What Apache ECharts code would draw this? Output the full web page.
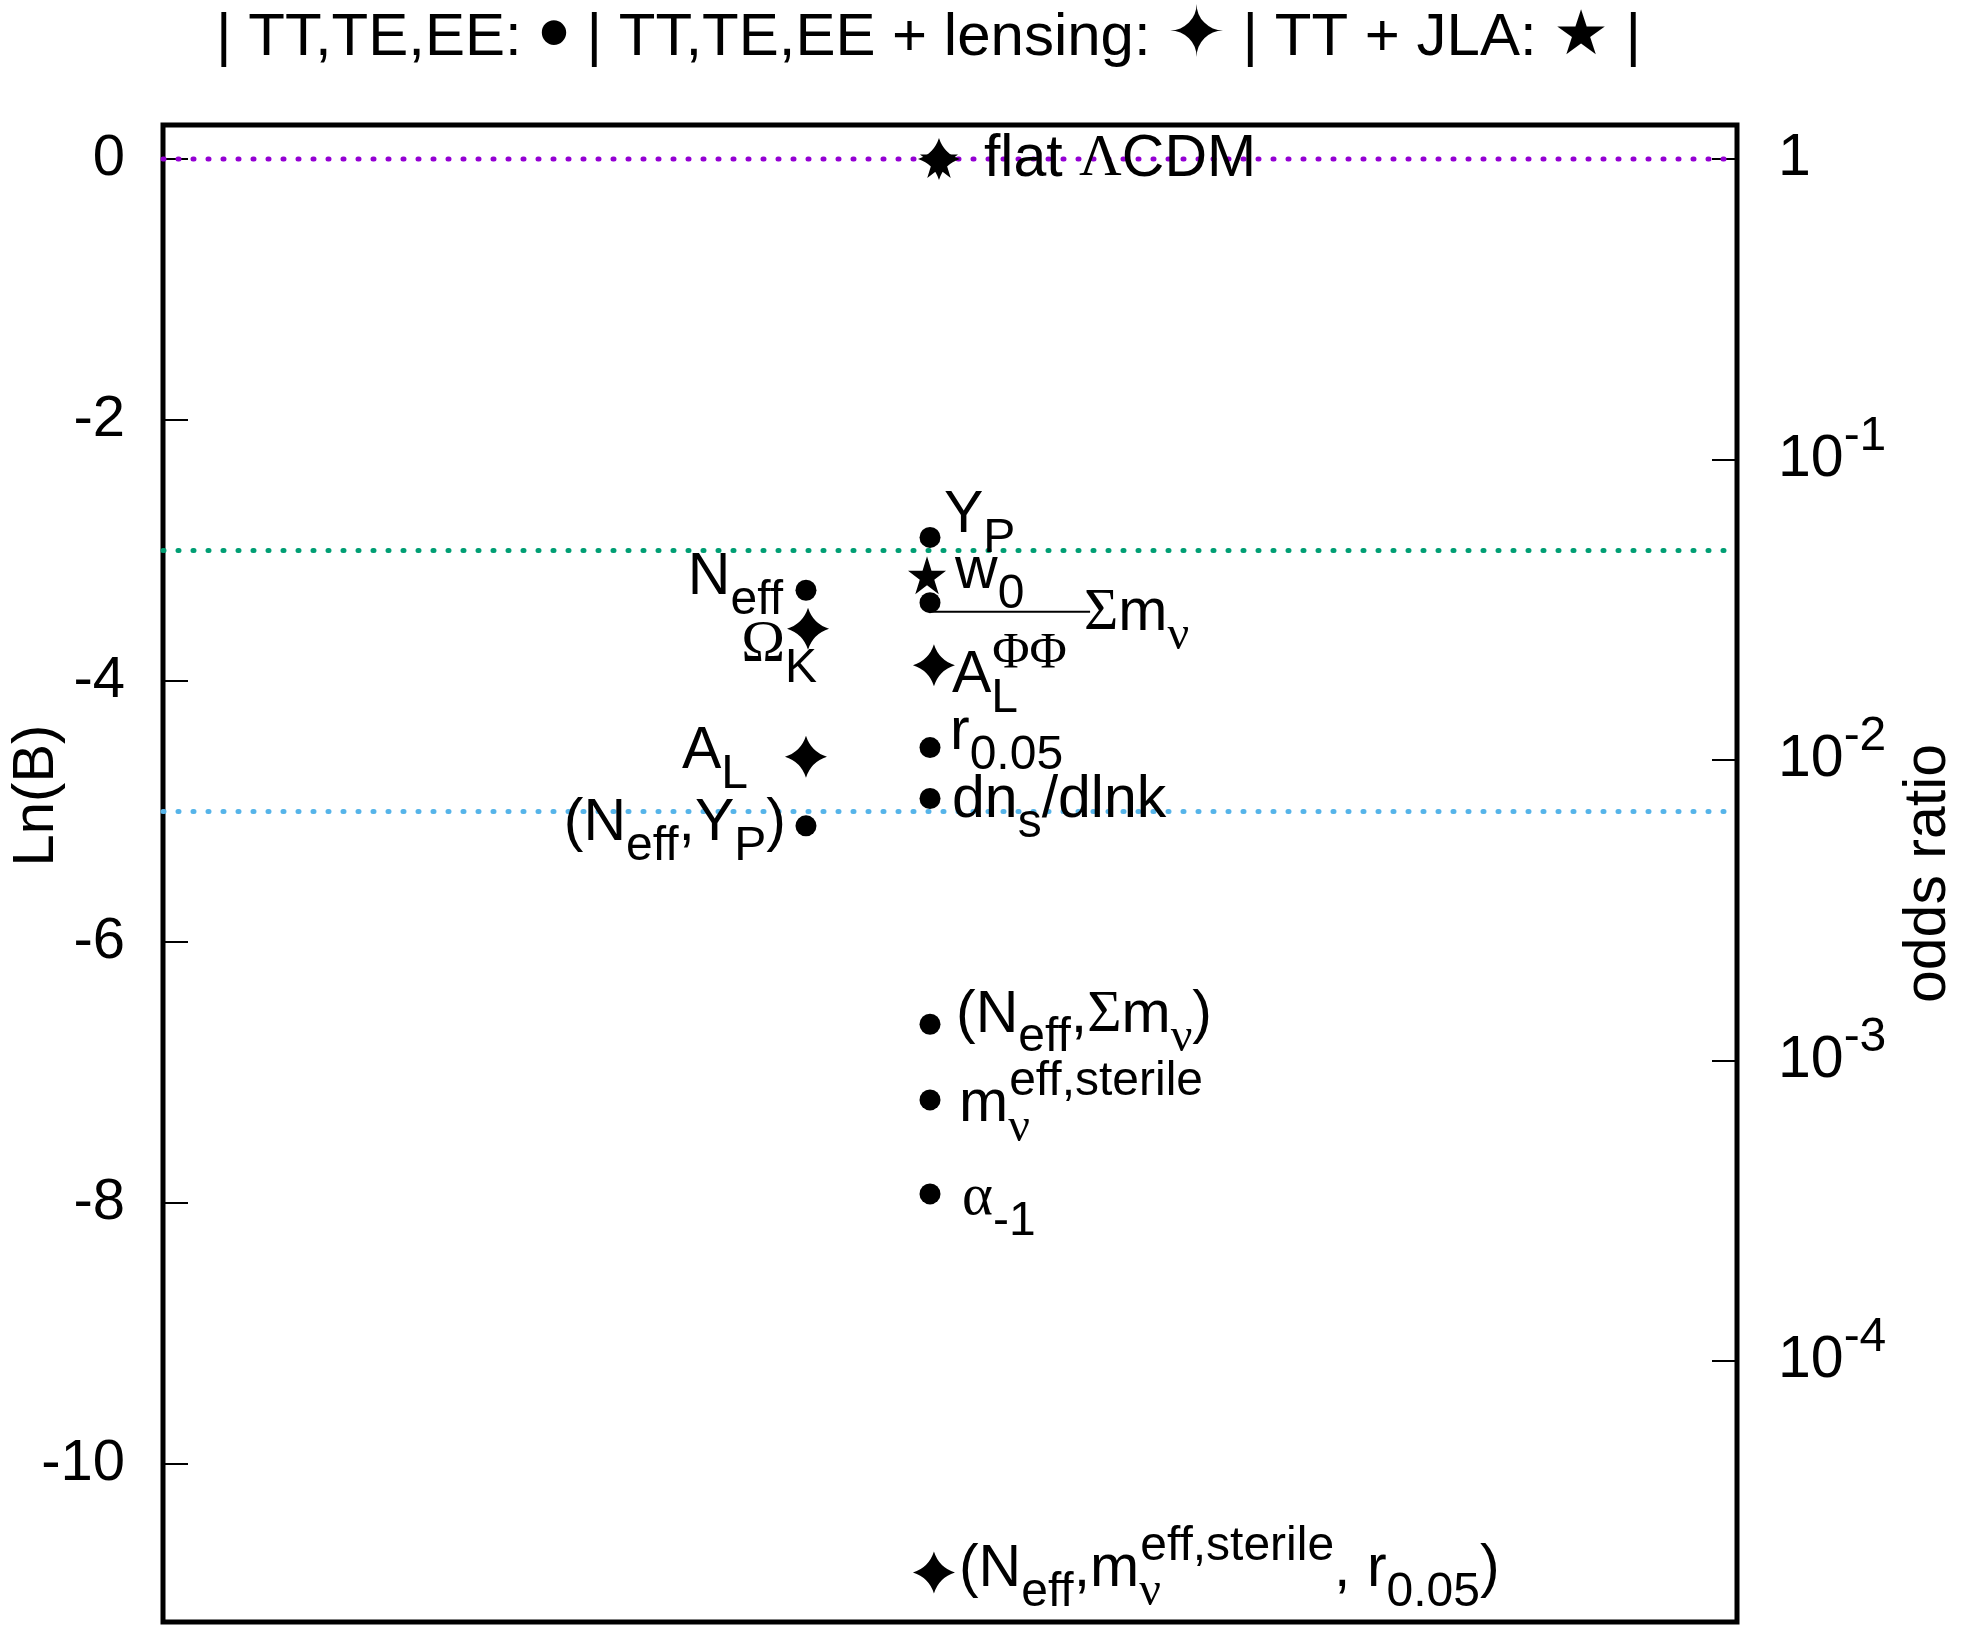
<!DOCTYPE html>
<html><head><meta charset="utf-8">
<script src="https://cdn.jsdelivr.net/npm/echarts@6/dist/echarts.min.js"></script>
<style>html,body{margin:0;padding:0;background:#fff}#c{width:1965px;height:1634px}</style>
</head><body><div id="c"></div>
<script>
// ---------------- data ----------------
const titleParts = ['| TT,TE,EE: ', '\u2022', ' | TT,TE,EE + lensing: ', '\u2726', ' | TT + JLA: ', '\u2605', ' |'];
const yAxisName = 'Ln(B)';
const y2AxisName = 'odds ratio';
const lnBTicks = [0, -2, -4, -6, -8, -10];
const oddsTicks = [1, 1e-1, 1e-2, 1e-3, 1e-4];
const oddsTickLabels = ['1', '10^{-1}', '10^{-2}', '10^{-3}', '10^{-4}'];
const refLineValues = [0, -3, -5];
const refLineColors = ['#9400d3', '#009e73', '#56b4e9'];

// TT,TE,EE (filled circles)
const tteeLabels = ['flat \u039bCDM', 'Y_P', '\u03a3m_\u03bd', 'r_{0.05}', 'dn_s/dlnk', '(N_{eff},\u03a3m_\u03bd)', 'm@_\u03bd^{eff,sterile}', '\u03b1_{-1}', 'N_{eff}', '(N_{eff},Y_P)'];
const tteeX = [4.93, 4.873, 4.873, 4.873, 4.873, 4.873, 4.873, 4.873, 4.085, 4.085];
const tteeLnB = [0, -2.90, -3.40, -4.51, -4.90, -6.63, -7.21, -7.93, -3.305, -5.11];

// TT,TE,EE + lensing (four-point stars)
const lensLabels = ['', 'A@_L^{\u03a6\u03a6}', '\u03a9_K', 'A_L', '(N_{eff},m@_\u03bd^{eff,sterile}, r_{0.05})'];
const lensX = [4.93, 4.898, 4.098, 4.085, 4.898];
const lensLnB = [0, -3.88, -3.60, -4.58, -10.83];

// TT + JLA (five-point stars)
const jlaLabels = ['', 'w_0'];
const jlaX = [4.93, 4.854];
const jlaLnB = [0, -3.19];

// connector from the sum-of-masses point to its label
const connectorX = [4.873, 5.89];
const connectorLnB = [-3.47, -3.47];

// ---------------- layout / style ----------------
const SANS = "'Liberation Sans', Arial, Helvetica, sans-serif";
const SERIF = "'Liberation Serif', 'DejaVu Serif', 'Times New Roman', serif";
const BASE = 59, SMALL = 48, LH = 94;
function rs(size, fam, va, extra) { return Object.assign({fontSize: size, fontFamily: fam, lineHeight: LH, verticalAlign: va, color: '#000'}, extra || {}); }
const rich = {
  n: rs(BASE, SANS, 'middle'), s: rs(SMALL, SANS, 'bottom'), p: rs(SMALL, SANS, 'top'),
  sz: rs(SMALL, SANS, 'bottom', {width: 1, align: 'left'}),
  gn: rs(BASE, SERIF, 'middle'), gs: rs(SMALL, SERIF, 'bottom'), gp: rs(SMALL + 3, SERIF, 'top'),
  gsz: rs(SMALL, SERIF, 'bottom', {width: 1, align: 'left'})
};
// label placement: [side, dx, dy] in px relative to marker centre
const labelLayout = {
  'flat \u039bCDM': ['right', 45, 1],
  'Y_P': ['right', 14, -22],
  'w_0': ['right', 28, -4],
  '\u03a3m_\u03bd': ['right', 154, 11],
  'A@_L^{\u03a6\u03a6}': ['right', 18, 10],
  'r_{0.05}': ['right', 20, -15],
  'dn_s/dlnk': ['right', 22, 2],
  '(N_{eff},\u03a3m_\u03bd)': ['right', 26, -9],
  'm@_\u03bd^{eff,sterile}': ['right', 29, 5],
  '\u03b1_{-1}': ['right', 32, 5],
  '(N_{eff},m@_\u03bd^{eff,sterile}, r_{0.05})': ['right', 25, -3],
  'N_{eff}': ['left', -23, -13],
  '\u03a9_K': ['left', 9, 17],
  'A_L': ['left', -58, -5],
  '(N_{eff},Y_P)': ['left', -20, -2]
};
const sizes = {dot: 21, diamond: 42, star: 38};

// gnuplot-like enhanced text -> ECharts rich text ("_" sub, "^" sup, "@" zero width)
function toRich(s) {
  const out = [];
  const push = (txt, mode) => {
    let cur = '', curG = null;
    for (const ch of txt) {
      const g = /[\u0370-\u03FF]/.test(ch);
      if (curG !== null && g !== curG) { out.push([cur, mode, curG]); cur = ''; }
      cur += ch; curG = g;
    }
    if (cur) out.push([cur, mode, curG]);
  };
  let buf = '', i = 0;
  while (i < s.length) {
    let c = s[i];
    let zero = false;
    if (c === '@' && (s[i + 1] === '_' || s[i + 1] === '^')) { zero = true; i++; c = s[i]; }
    if (c === '_' || c === '^') {
      if (buf) { push(buf, 'n'); buf = ''; }
      let grp;
      if (s[i + 1] === '{') { const j = s.indexOf('}', i + 2); grp = s.slice(i + 2, j); i = j + 1; }
      else { grp = s[i + 1]; i += 2; }
      push(grp, (c === '_' ? 's' : 'p') + (zero ? 'z' : ''));
    } else { buf += c; i++; }
  }
  if (buf) push(buf, 'n');
  return out.map(([t, m, g]) => '{' + (g ? 'g' : '') + m + '|' + t + '}').join('');
}

const diamondPath = 'path://M0,-10 Q2.4,-2.4 10,0 Q2.4,2.4 0,10 Q-2.4,2.4 -10,0 Q-2.4,-2.4 0,-10 Z';
const starPath = 'path://M0,-10 L2.245,-3.09 L9.511,-3.09 L3.633,1.18 L5.878,8.09 L0,3.82 L-5.878,8.09 L-3.633,1.18 L-9.511,-3.09 L-2.245,-3.09 Z';

function mkSeries(name, xs, ys, labels, symbol, sz) {
  return {
    type: 'scatter', name, symbol, symbolSize: sz, z: 4,
    itemStyle: {color: '#000', opacity: 1},
    emphasis: {disabled: true}, silent: true,
    data: xs.map((x, i) => {
      const item = {value: [x, ys[i]]};
      const lay = labelLayout[labels[i]];
      if (lay) {
        item.label = {
          show: true, formatter: toRich(labels[i]),
          position: [lay[1] + sz / 2, lay[2] + sz / 2],
          align: lay[0] === 'right' ? 'left' : 'right',
          verticalAlign: 'middle', rich
        };
      }
      return item;
    })
  };
}

const series = [];
refLineValues.forEach((v, k) => {
  series.push({
    type: 'line', symbol: 'none', silent: true, z: 2, clip: false,
    data: [[0, v], [10, v]],
    lineStyle: {color: refLineColors[k], width: 5, type: [1, 14], cap: 'round'}
  });
});
series.push({
  type: 'line', symbol: 'none', silent: true, z: 3,
  data: connectorX.map((x, i) => [x, connectorLnB[i]]),
  lineStyle: {color: '#000', width: 2}
});
series.push(mkSeries('TT,TE,EE', tteeX, tteeLnB, tteeLabels, 'circle', sizes.dot));
series.push(mkSeries('TT,TE,EE + lensing', lensX, lensLnB, lensLabels, diamondPath, sizes.diamond));
series.push(mkSeries('TT + JLA', jlaX, jlaLnB, jlaLabels, starPath, sizes.star));

const titleStyles = ['t', 'b', 't', 'd', 't', 'k', 't'];
const titleRich = titleParts.map((p, i) => '{' + titleStyles[i] + '|' + p + '}').join('');

const chart = echarts.init(document.getElementById('c'), null, {renderer: 'canvas'});
chart.setOption({
  animation: false,
  backgroundColor: '#fff',
  title: {
    text: titleRich, left: 216, top: -2, padding: 0,
    textStyle: {
      fontSize: 60, fontFamily: SANS, fontWeight: 'normal', color: '#000',
      rich: {
        t: {fontSize: 60, fontFamily: SANS, color: '#000', lineHeight: 80, verticalAlign: 'middle'},
        b: {fontSize: 90, fontFamily: SANS, color: '#000', lineHeight: 80, verticalAlign: 'middle'},
        d: {fontSize: 70, fontFamily: "'DejaVu Sans', sans-serif", color: '#000', lineHeight: 80, verticalAlign: 'middle'},
        k: {fontSize: 62, fontFamily: "'DejaVu Sans', sans-serif", color: '#000', lineHeight: 80, verticalAlign: 'middle'}
      }
    }
  },
  grid: {left: 163, right: 228, top: 125, bottom: 12, show: true, borderColor: '#000', borderWidth: 5,
         backgroundColor: 'transparent', outerBoundsMode: 'none', containLabel: false},
  xAxis: {type: 'value', min: 0, max: 10, show: false},
  yAxis: [
    {
      type: 'value', min: -11.21, max: 0.26, position: 'left',
      name: yAxisName, nameLocation: 'middle', nameRotate: 90, nameGap: 97, nameMoveOverlap: false,
      nameTextStyle: {fontSize: 58, fontFamily: SANS, color: '#000', padding: [0, 0, 0, 156]},
      axisLine: {show: false}, splitLine: {show: false},
      axisTick: {show: true, inside: true, length: 25, customValues: lnBTicks, lineStyle: {color: '#000', width: 2}},
      axisLabel: {customValues: lnBTicks, margin: 38, fontSize: 58, fontFamily: SANS, color: '#000',
                  formatter: v => String(v)}
    },
    {
      type: 'value', min: -11.21, max: 0.26, position: 'right',
      name: y2AxisName, nameLocation: 'middle', nameRotate: 90, nameGap: 162, nameMoveOverlap: false,
      nameTextStyle: {fontSize: 59, fontFamily: SANS, color: '#000'},
      axisLine: {show: false}, splitLine: {show: false},
      axisTick: {show: true, inside: true, length: 25, customValues: oddsTicks.map(Math.log), lineStyle: {color: '#000', width: 2}},
      axisLabel: {customValues: oddsTicks.map(Math.log), margin: 41, color: '#000', rich,
                  formatter: v => {
                    let best = 0;
                    oddsTicks.forEach((t, i) => { if (Math.abs(Math.log(t) - v) < Math.abs(Math.log(oddsTicks[best]) - v)) best = i; });
                    return toRich(oddsTickLabels[best]);
                  }}
    }
  ],
  series
});
</script>
</body></html>
